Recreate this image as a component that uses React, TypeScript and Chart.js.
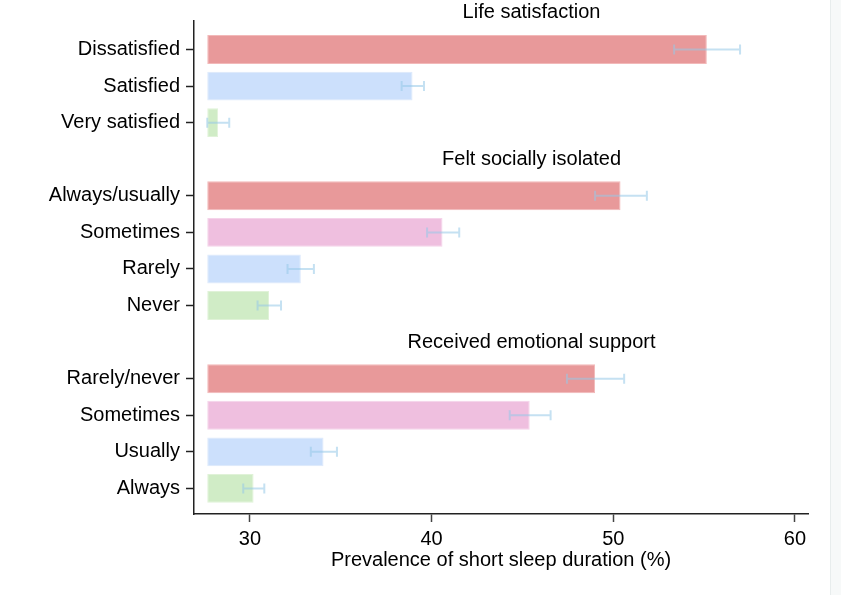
import { useEffect, useRef } from "react";
import { Chart, registerables } from "chart.js";

Chart.register(...registerables);

// ---------- data ----------
const ROW_LABELS = [
  "Dissatisfied",
  "Satisfied",
  "Very satisfied",
  "Always/usually",
  "Sometimes",
  "Rarely",
  "Never",
  "Rarely/never",
  "Sometimes",
  "Usually",
  "Always",
];
const ROW_POSITIONS = [1, 2, 3, 5, 6, 7, 8, 10, 11, 12, 13];
const GROUP_TITLES = ["Life satisfaction", "Felt socially isolated", "Received emotional support"];
const GROUP_TITLE_POSITIONS = [0, 4, 9];
const PREVALENCE = [55.15, 38.95, 28.25, 50.4, 40.6, 32.8, 31.05, 49.0, 45.4, 34.05, 30.2];
const CI_LOWER = [53.35, 38.35, 27.65, 49.0, 39.75, 32.07, 30.42, 47.45, 44.3, 33.35, 29.63];
const CI_UPPER = [56.98, 39.58, 28.86, 51.85, 41.52, 33.52, 31.71, 50.6, 46.55, 34.79, 30.79];
const BAR_BASE = 27.65;
const X_TICKS = [30, 40, 50, 60];
const X_MIN = 26.92;
const X_MAX = 60.72;
const Y_MIN = 0.22;
const Y_MAX = 13.7;
const TITLE_X = 45.5;
const X_TITLE = "Prevalence of short sleep duration (%)";
// level of each row: 0 = red, 1 = pink, 2 = blue, 3 = green
const ROW_LEVEL = [0, 2, 3, 0, 1, 2, 3, 0, 1, 2, 3];

// ---------- styles ----------
const FILL = ["#e8999a", "#efbfdf", "#cce0fc", "#d0ecc6"];
const EDGE = ["#f2b9b9", "#f5d3ea", "#dde9fc", "#e0f2d8"];
const FONT = '"Liberation Sans", Arial, Helvetica, sans-serif';

const errorBarPlugin = {
  id: "errorBars",
  afterDatasetsDraw(chart: any) {
    const { ctx } = chart;
    const xs = chart.scales.x;
    const meta = chart.getDatasetMeta(0);
    ctx.save();
    ctx.strokeStyle = "rgba(150,200,232,0.55)";
    ctx.lineWidth = 2;
    meta.data.forEach((bar: any, i: number) => {
      const y = bar.y;
      const x1 = xs.getPixelForValue(CI_LOWER[i]);
      const x2 = xs.getPixelForValue(CI_UPPER[i]);
      ctx.beginPath();
      ctx.moveTo(x1, y);
      ctx.lineTo(x2, y);
      ctx.moveTo(x1, y - 5);
      ctx.lineTo(x1, y + 5);
      ctx.moveTo(x2, y - 5);
      ctx.lineTo(x2, y + 5);
      ctx.stroke();
    });
    ctx.restore();
  },
};

const groupTitlePlugin = {
  id: "groupTitles",
  afterDraw(chart: any) {
    const { ctx } = chart;
    const xs = chart.scales.x;
    const ys = chart.scales.y;
    ctx.save();
    ctx.font = `20px ${FONT}`;
    ctx.fillStyle = "#000";
    ctx.textAlign = "center";
    ctx.textBaseline = "middle";
    GROUP_TITLES.forEach((t, i) => {
      ctx.fillText(t, xs.getPixelForValue(TITLE_X), ys.getPixelForValue(GROUP_TITLE_POSITIONS[i]));
    });
    ctx.restore();
  },
};

export default function App() {
  const canvasRef = useRef<HTMLCanvasElement | null>(null);

  useEffect(() => {
    if (!canvasRef.current) return;
    const chart = new Chart(canvasRef.current, {
      type: "bar",
      data: {
        datasets: [
          {
            data: ROW_POSITIONS.map((p, i) => ({ y: p, x: [BAR_BASE, PREVALENCE[i]] })) as any,
            backgroundColor: ROW_LEVEL.map((l) => FILL[l]),
            borderColor: ROW_LEVEL.map((l) => EDGE[l]),
            borderWidth: 1,
            borderSkipped: false,
            barPercentage: 0.79,
            categoryPercentage: 1,
          },
        ],
      },
      options: {
        indexAxis: "y",
        animation: false,
        responsive: true,
        maintainAspectRatio: false,
        layout: { padding: { top: 21, right: 33, left: 0, bottom: 0 } },
        plugins: {
          legend: { display: false },
          tooltip: { enabled: false },
        },
        scales: {
          y: {
            type: "linear",
            reverse: true,
            offset: false,
            min: Y_MIN,
            max: Y_MAX,
            afterBuildTicks: (scale: any) => {
              scale.ticks = ROW_POSITIONS.map((v) => ({ value: v }));
            },
            afterFit: (scale: any) => {
              scale.width = 194;
            },
            ticks: {
              autoSkip: false,
              padding: 6,
              color: "#000",
              font: { size: 20, family: FONT },
              callback: (value: any) => {
                const i = ROW_POSITIONS.indexOf(Number(value));
                return i >= 0 ? ROW_LABELS[i] : "";
              },
            },
            grid: {
              display: true,
              offset: false,
              drawOnChartArea: false,
              drawTicks: true,
              tickLength: 8,
              tickColor: "#222",
              tickWidth: 1.5,
            },
            border: { display: true, color: "#222", width: 1.5 },
          },
          x: {
            type: "linear",
            min: X_MIN,
            max: X_MAX,
            afterBuildTicks: (scale: any) => {
              scale.ticks = X_TICKS.map((v) => ({ value: v }));
            },
            afterFit: (scale: any) => {
              scale.height = 81;
            },
            ticks: {
              autoSkip: false,
              padding: 5,
              color: "#000",
              font: { size: 20, family: FONT },
            },
            grid: {
              display: true,
              drawOnChartArea: false,
              drawTicks: true,
              tickLength: 8,
              tickColor: "#444",
              tickWidth: 1.5,
            },
            border: { display: true, color: "#222", width: 1.5 },
            title: {
              display: true,
              text: X_TITLE,
              color: "#000",
              font: { size: 20, family: FONT },
              padding: { top: 0, bottom: 23 },
            },
          },
        },
      },
      plugins: [errorBarPlugin, groupTitlePlugin],
    });
    return () => chart.destroy();
  }, []);

  return (
    <div
      style={{
        position: "fixed",
        left: 0,
        top: 0,
        width: 841,
        height: 595,
        background: "#fff",
      }}
    >
      <canvas ref={canvasRef} />
      <div
        style={{
          position: "absolute",
          left: 830,
          top: 0,
          width: 11,
          height: 595,
          background: "#f7f9f9",
          borderLeft: "1px solid #e8eded",
        }}
      />
    </div>
  );
}
